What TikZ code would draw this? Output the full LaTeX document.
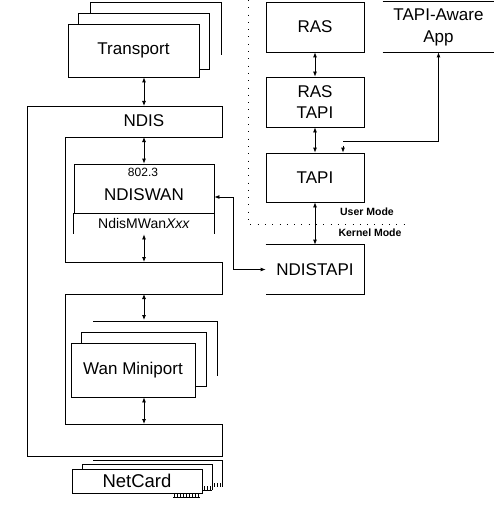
\documentclass[tikz,border=0pt]{standalone}
\usepackage{fontspec}
\setmainfont{Liberation Sans}
\usetikzlibrary{arrows.meta}

\tikzset{
  box/.style={draw, minimum width=98pt, minimum height=50pt, inner sep=0pt, align=center,
    font=\fontsize{17}{21}\selectfont},
  arr/.style={{Latex[length=5pt,width=4pt]}-{Latex[length=5pt,width=4pt]}},
  tip/.style={-{Latex[length=5pt,width=4pt]}},
  modetext/.style={font=\fontsize{10.5}{12}\selectfont\bfseries, inner sep=0pt},
  boundary/.style={dash pattern=on 0.8pt off 6.5pt},
}

\begin{document}
\begin{tikzpicture}[x=1pt,y=-1pt,line width=0.8pt]
\useasboundingbox (0,0) rectangle (494,508);

% user / kernel boundary
\draw[boundary] (248,0) -- (248,224) -- (407,224);
\node[modetext] (usermode) at (367,212) {User Mode};
\node[modetext] (kernelmode) at (370,233) {Kernel Mode};

% transport cards
\draw (90,13) -- (90,2) -- (221,2) -- (221,55);
\draw (78,24) -- (78,13) -- (209,13) -- (209,69) -- (199,69);
\node[box, minimum width=131pt, minimum height=53pt] (transport) at (133.5,50.5) {Transport};

% NDIS wrapper
\coordinate (c1) at (27,106);
\coordinate (c2) at (222,137);
\coordinate (c3) at (222,262);
\coordinate (c4) at (222,294);
\coordinate (c5) at (222,424);
\coordinate (c6) at (222,456);
\draw (c1) -- (c1 -| c2) -- (c2) -- (65,137) -- (65,262) -- (c3) -- (c4) -- (65,294)
  -- (65,424) -- (c5) -- (c6) -- (27,456) -- cycle;
\node[font=\fontsize{17}{21}\selectfont] (ndis) at (144,121) {NDIS};

% ndiswan
\node[box, minimum width=140pt, minimum height=49pt] (ndiswan) at (144,188.5) {};
\node[font=\fontsize{12}{14}\selectfont, inner sep=0pt] (ieee) at (143,172) {802.3};
\node[font=\fontsize{17}{21}\selectfont, inner sep=0pt] (ndiswanlbl) at (144,195) {NDISWAN};
\draw (ndiswan.south west) -- ++(0,21);
\draw (ndiswan.south east) -- ++(0,21) coordinate (wanext);
\node[font=\fontsize{14}{16}\selectfont, inner sep=0pt] (mwan) at (144,223) {NdisMWan\textit{Xxx}};

% wan miniport cards
\draw (93,321) -- (217,321) -- (217,376) coordinate (wanback);
\draw (81,343) -- (81,332) -- (206,332) -- (206,386) -- (195,386);
\node[box, minimum width=124pt, minimum height=54pt] (wan) at (133,370) {Wan Miniport};

% netcards
\draw (93,460) -- (222,460) -- (222,487);
\draw (82,469) -- (82,464) -- (212,464) -- (212,490);
\node[box, minimum width=130pt, minimum height=24pt, font=\fontsize{18.5}{21}\selectfont] (netcard) at (137,481) {NetCard};
\draw (173,497) -- (200,497);
\foreach \x in {174,177,...,199} \draw (\x,493) -- (\x,497);
\draw (202,490) -- (212,490);
\foreach \x in {204,207,210} \draw (\x,486) -- (\x,490);
\foreach \x in {214,217,220} \draw (\x,483) -- (\x,487);

% right column
\node[box] (ras) at (315,27) {RAS};
\node[box] (rastapi) at (315,102) {RAS\\TAPI};
\node[box, minimum height=49pt] (tapi) at (315,177.5) {TAPI};
\node[box, draw=none, minimum height=49pt] (ndistapi) at (315,269.5) {NDISTAPI};
\draw (ndistapi.north west) -- (ndistapi.north east) -- (ndistapi.south east) -- (ndistapi.south west);
\node[box, draw=none, minimum width=111pt, font=\fontsize{17}{22}\selectfont] (app) at (438.5,27) {TAPI-Aware\\App};
\draw (app.north west) -- (app.north east);
\draw (app.south west) -- (app.south east);

% connectors
\draw[arr] (ndis |- transport.south) -- (ndis |- c1);
\draw[arr] (ndis |- c2) -- (ndiswan.north);
\draw[arr] (ndis |- wanext) -- (ndis |- c3);
\draw[arr] (ndis |- c4) -- (ndis |- 0,320);
\draw[arr] (ndis |- wan.south) -- (ndis |- c5);
\draw[arr] (ras) -- (rastapi);
\draw[arr] (rastapi) -- (tapi);
\draw[arr] (tapi) -- (ndistapi);

\coordinate (bend) at (233,197);
\draw[arr] (ndiswan.east |- bend) -- (bend) |- (ndistapi.west);

\coordinate (tj) at (343,141);
\draw[tip] (tj) -| (app.south);
\draw[tip] (tj |- tapi.north) ++(0,-7) -- (tj |- tapi.north);
\end{tikzpicture}
\end{document}
